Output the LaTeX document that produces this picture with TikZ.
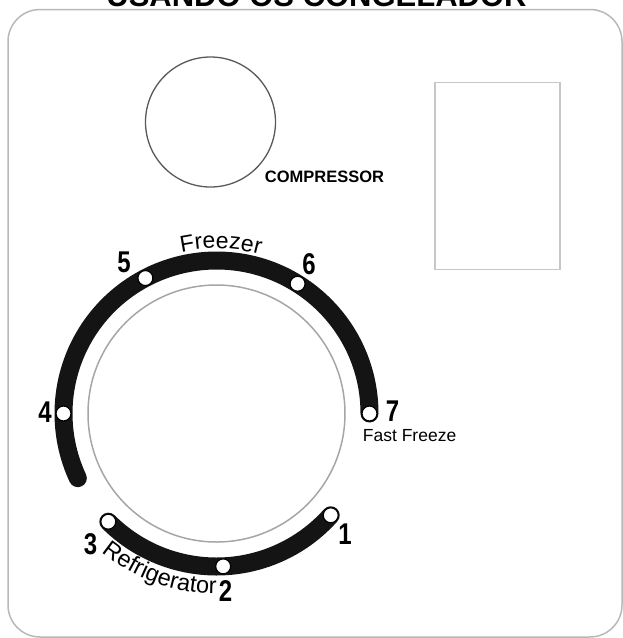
\documentclass[tikz,border=0pt]{standalone}
\usepackage{fontspec}
\setmainfont{Liberation Sans}
\usetikzlibrary{decorations.text}
\newcommand{\dig}[1]{\scalebox{0.8}[1]{\bfseries #1}}
\begin{document}
\begin{tikzpicture}[x=1pt,y=1pt,
  frame/.style={draw=black!28, line width=1.5, rounded corners=32},
  band/.style={line width=18, line cap=round, draw=black!92},
  knob/.style={circle, draw=black, fill=white, line width=1.2, minimum size=15, inner sep=0},
  digit/.style={inner sep=0, font=\fontsize{30}{30}\selectfont},
  plain/.style={inner sep=0},
]
\useasboundingbox (0,0) rectangle (623,-638);
% title (cut by the top edge)
\node[plain, anchor=base] (title) at (316.5,-6) {\bfseries\fontsize{31}{31}\selectfont USANDO OS CONGELADOR};
% frame
\draw[frame] (8,-9.5) rectangle (622,-637);
% compressor
\node[circle, draw=black!65, line width=1.3, minimum size=130, inner sep=0] (comp) at (210.5,-122) {};
\node[plain] (complabel) at (324.5,-177) {\bfseries\fontsize{16.5}{16.5}\selectfont COMPRESSOR};
% right panel
\node[draw=black!22, line width=1.3, minimum width=125, minimum height=186.6, inner sep=0] (panel) at (497.5,-176) {};
% dial
\coordinate (C) at (216.5,-413.5);
\draw[draw=black!35, line width=1.5] (C) circle[radius=128.5];
\draw[band] ([shift={(0:153)}]C) arc[start angle=0, end angle=205, radius=153];
\draw[band] ([shift={(-135:153)}]C) arc[start angle=-135, end angle=-41.7, radius=153];
% knob positions
\node[knob] (d1) at ([shift={(-41.7:153)}]C) {};
\node[knob] (d2) at ([shift={(-87.5:153)}]C) {};
\node[knob] (d3) at ([shift={(-135:153)}]C) {};
\node[knob] (d4) at ([shift={(180:153)}]C) {};
\node[knob] (d5) at ([shift={(117.7:153)}]C) {};
\node[knob] (d6) at ([shift={(58:153)}]C) {};
\node[knob] (d7) at ([shift={(0:153)}]C) {};
% digits
\node[digit] (l1) at (345,-534) {\dig{1}};
\node[digit] (l2) at (225.5,-591.5) {\dig{2}};
\node[digit] (l3) at (90.5,-544) {\dig{3}};
\node[digit] (l4) at (45,-412.5) {\dig{4}};
\node[digit] (l5) at (124,-262.5) {\dig{5}};
\node[digit] (l6) at (309,-264) {\dig{6}};
\node[digit] (l7) at (392.5,-411.5) {\dig{7}};
% curved labels
\path[decorate, decoration={text along path, text align=center,
  text={|\fontsize{23}{23}\selectfont|Freezer}}]
  ([shift={(118.5:165)}]C) arc[start angle=118.5, end angle=58.5, radius=165];
\path[decorate, decoration={text along path, text align=center,
  text={|\fontsize{23.5}{23.5}\selectfont|Refrigerator}}]
  ([shift={(-141:180)}]C) arc[start angle=-141, end angle=-78.6, radius=180];
\node[plain, anchor=base west] (fast) at (362.7,-441.7) {\fontsize{17.5}{17.5}\selectfont Fast Freeze};
\end{tikzpicture}
\end{document}
